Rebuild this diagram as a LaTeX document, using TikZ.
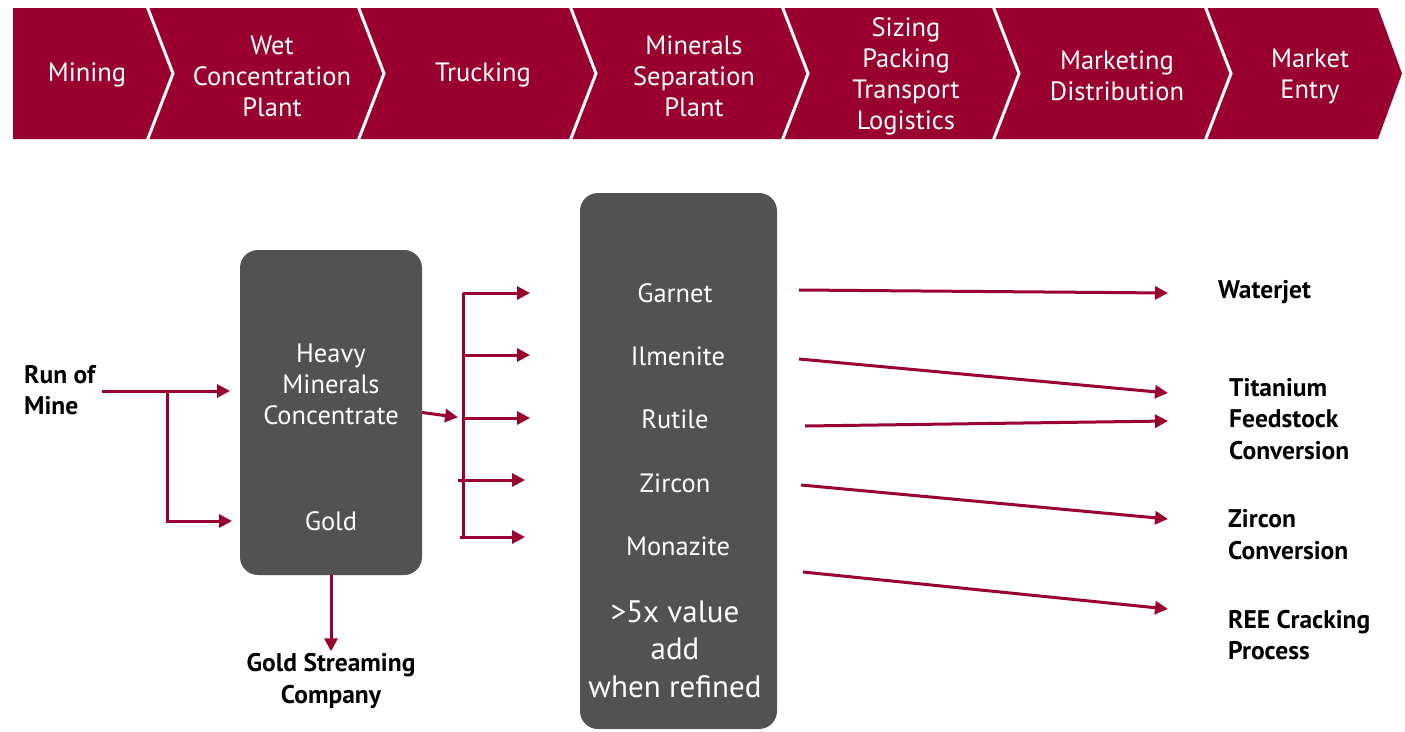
\documentclass[tikz,border=0pt]{standalone}
\usepackage{fontspec}
\setmainfont{PT Sans}
\usetikzlibrary{arrows.meta,positioning}
\definecolor{chain}{RGB}{153,0,48}
\definecolor{boxgray}{RGB}{82,82,82}

\begin{document}
\begin{tikzpicture}[x=1pt,y=-1pt,
      >={Triangle[length=13pt,width=13pt]},
      stage/.style = {text=white, align=center, font=\fontsize{26.5}{31}\selectfont},
      block/.style = {fill=boxgray, rounded corners=18pt, inner sep=0pt},
      mineral/.style = {stage},
      bigtext/.style = {text=white, align=center, font=\fontsize{31}{37.5}\selectfont},
      lbl/.style = {font=\bfseries\fontsize{25.5}{31.5}\selectfont, align=left, inner sep=0pt},
      flow/.style = {->, draw=chain, line width=3pt},
      ]
      \useasboundingbox (0,0) rectangle (1405,731);
      % value chain band
      \fill[chain] (13,8) -- (1378,8) -- (1402,73.5) -- (1378,139) -- (13,139) -- cycle;
      \foreach \x in {147,358,570,782,993,1205}
        \draw[white, line width=3pt] (\x,6) -- (\x+26,73.5) -- (\x,141);
      \node[stage] (mining) at (87,75) {Mining};
      \node[stage] (wcp) at (272,76) {Wet\\Concentration\\Plant};
      \node[stage] (trucking) at (483,75) {Trucking};
      \node[stage] (msp) at (694,76) {Minerals\\Separation\\Plant};
      \node[stage] (sizing) at (906,76) {Sizing\\Packing\\Transport\\Logistics};
      \node[stage] (marketing) at (1117,76) {Marketing\\Distribution};
      \node[stage] (entry) at (1310,76) {Market\\Entry};
      % plant boxes
      \node[block, minimum width=182pt, minimum height=325pt] (hmcbox) at (331,412.5) {};
      \node[stage] (hmc) at (331,384) {Heavy\\Minerals\\Concentrate};
      \node[stage] (gold) at (331,521) {Gold};
      \node[block, minimum width=197pt, minimum height=536pt] (sepbox) at (678.5,461) {};
      \node[mineral] (garnet) at (675,293) {Garnet};
      \node[mineral] (ilmenite) at (678,356) {Ilmenite};
      \node[mineral] (rutile) at (675,419) {Rutile};
      \node[mineral] (zircon) at (675,483) {Zircon};
      \node[mineral] (monazite) at (678,546) {Monazite};
      \node[bigtext] (value) at (675,649) {>5x value\\add\\when refined};
      % outside labels
      \node[lbl, anchor=west] (rom) at (24,390) {Run of\\Mine};
      \node[lbl, align=center] (gsc) at (331,681) {Gold Streaming\\Company};
      \node[lbl, anchor=west] (waterjet) at (1218,292) {Waterjet};
      \node[lbl, anchor=west] (titanium) at (1229,419) {Titanium\\Feedstock\\Conversion};
      \node[lbl, anchor=west] (zirconconv) at (1228,534.5) {Zircon\\Conversion};
      \node[lbl, anchor=west] (ree) at (1228,635) {REE Cracking\\Process};
      % feed
      \coordinate (split) at (167,391);
      \coordinate (inhmc) at (230,391);
      \coordinate (ingold) at (232,521);
      \draw[flow, shorten <=7pt] (rom.east |- inhmc) -- (inhmc);
      \draw[flow] (split) |- (ingold);
      \draw[flow, shorten >=2pt] (hmcbox.south) -- (gsc.north);
      % bus to separation
      \coordinate (bustop) at (463,293);
      \coordinate (busbot) at (463,537);
      \draw[flow, shorten >=5pt] (hmcbox.east) -- (463,418);
      \draw[chain, line width=3pt] (bustop) -- (busbot);
      \foreach \i/\xs/\y/\xe in {1/463/293/530, 2/463/355/530, 3/463/418/530, 4/458/480/525, 5/460/537/525}{
        \coordinate (bs\i) at (\xs,\y);
        \coordinate (be\i) at (\xe,\y);
        \draw[flow] (bs\i) -- (be\i);
      }
      % products
      \foreach \i/\xs/\ys/\ye in {1/799/290/293, 2/799/359/393, 3/805/426/421, 4/801/485/519, 5/803/572/609}{
        \coordinate (ps\i) at (\xs,\ys);
        \coordinate (pe\i) at (1168,\ye);
        \draw[flow] (ps\i) -- (pe\i);
      }
    \end{tikzpicture}
\end{document}
